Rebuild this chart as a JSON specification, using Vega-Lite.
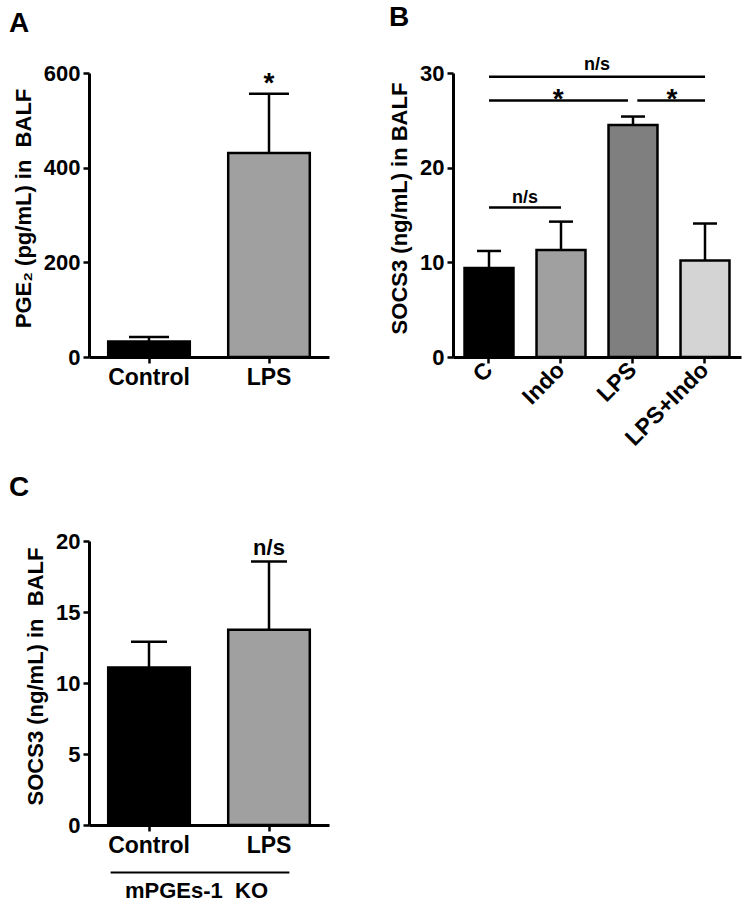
{
  "$schema": "https://vega.github.io/schema/vega-lite/v6.json",
  "background": "white",
  "padding": {"left": 9, "top": 4, "right": 5, "bottom": 5},
  "columns": 2,
  "spacing": {"row": 184, "column": 124},
  "bounds": "flush",
  "resolve": {"scale": {"fill": "independent"}},
  "datasets": {
    "a": [
      {"group": "Control", "mean": 33, "upper": 42, "sig": ""},
      {"group": "LPS", "mean": 431, "upper": 556, "sig": "*"}
    ],
    "b": [
      {"group": "C", "mean": 9.4, "upper": 11.2},
      {"group": "Indo", "mean": 11.3, "upper": 14.3},
      {"group": "LPS", "mean": 24.5, "upper": 25.4},
      {"group": "LPS+Indo", "mean": 10.2, "upper": 14.1}
    ],
    "bLines": [
      {"x1": 0, "x2": 1, "y": 15.8},
      {"x1": 0, "x2": 1.93, "y": 27.1},
      {"x1": 2.06, "x2": 3.0, "y": 27.1},
      {"x1": 0, "x2": 3.0, "y": 29.6}
    ],
    "bNs": [
      {"x": 0.5, "y": 16.3, "label": "n/s"},
      {"x": 1.5, "y": 30.3, "label": "n/s"}
    ],
    "bStar": [
      {"x": 0.96, "y": 26.3, "label": "*"},
      {"x": 2.54, "y": 26.3, "label": "*"}
    ],
    "c": [
      {"group": "Control", "mean": 11.1, "upper": 12.9, "sig": ""},
      {"group": "LPS", "mean": 13.75, "upper": 18.55, "sig": "n/s"}
    ],
    "cLine": [
      {"x1": -0.32, "x2": 1.17, "y": -3.35}
    ]
  },
  "concat": [
    {
      "width": 240,
      "height": 284,
      "title": {"text": "A", "dx": -80, "offset": 24},
      "data": {"name": "a"},
      "layer": [
        {
          "mark": {"type": "bar", "stroke": "black", "strokeWidth": 2.5},
          "encoding": {
            "x": {"field": "group", "type": "nominal", "sort": null, "title": null,
                  "scale": {"paddingInner": 0.32, "paddingOuter": 0.16}},
            "y": {"field": "mean", "type": "quantitative", "title": "PGE₂ (pg/mL) in\u00a0 BALF",
                  "scale": {"domain": [0, 600], "nice": false},
                  "axis": {"values": [0, 200, 400, 600]}},
            "fill": {"field": "group", "type": "nominal", "legend": null,
                     "scale": {"domain": ["Control", "LPS"], "range": ["#000000", "#a0a0a0"]}}
          }
        },
        {
          "mark": {"type": "rule", "strokeWidth": 2.5, "color": "black"},
          "encoding": {
            "x": {"field": "group", "type": "nominal", "sort": null},
            "y": {"field": "mean", "type": "quantitative", "title": "PGE₂ (pg/mL) in\u00a0 BALF"},
            "y2": {"field": "upper"}
          }
        },
        {
          "mark": {"type": "tick", "size": 40, "thickness": 2.5, "color": "black", "opacity": 1},
          "encoding": {
            "x": {"field": "group", "type": "nominal", "sort": null},
            "y": {"field": "upper", "type": "quantitative", "title": "PGE₂ (pg/mL) in\u00a0 BALF"}
          }
        },
        {
          "mark": {"type": "text", "fontSize": 28, "fontWeight": "bold", "baseline": "alphabetic", "dy": -2, "color": "black"},
          "encoding": {
            "x": {"field": "group", "type": "nominal", "sort": null},
            "y": {"field": "upper", "type": "quantitative", "title": "PGE₂ (pg/mL) in\u00a0 BALF"},
            "text": {"field": "sig"}
          }
        }
      ]
    },
    {
      "width": 288,
      "height": 284,
      "title": {"text": "B", "dx": -64, "offset": 24},
      "resolve": {"scale": {"x": "independent"}},
      "layer": [
        {
          "data": {"name": "b"},
          "layer": [
            {
              "mark": {"type": "bar", "stroke": "black", "strokeWidth": 2.5},
              "encoding": {
                "x": {"field": "group", "type": "nominal", "sort": null, "title": null,
                      "scale": {"paddingInner": 0.32, "paddingOuter": 0.16},
                      "axis": {"labelAngle": -45, "labelAlign": "right", "labelBaseline": "middle"}},
                "y": {"field": "mean", "type": "quantitative", "title": "SOCS3 (ng/mL) in BALF",
                      "scale": {"domain": [0, 30], "nice": false},
                      "axis": {"values": [0, 10, 20, 30]}},
                "fill": {"field": "group", "type": "nominal", "legend": null,
                         "scale": {"domain": ["C", "Indo", "LPS", "LPS+Indo"], "range": ["#000000", "#a0a0a0", "#7f7f7f", "#d4d4d4"]}}
              }
            },
            {
              "mark": {"type": "rule", "strokeWidth": 2.5, "color": "black"},
              "encoding": {
                "x": {"field": "group", "type": "nominal", "sort": null},
                "y": {"field": "mean", "type": "quantitative", "title": "SOCS3 (ng/mL) in BALF"},
                "y2": {"field": "upper"}
              }
            },
            {
              "mark": {"type": "tick", "size": 24, "thickness": 2.5, "color": "black", "opacity": 1},
              "encoding": {
                "x": {"field": "group", "type": "nominal", "sort": null},
                "y": {"field": "upper", "type": "quantitative", "title": "SOCS3 (ng/mL) in BALF"}
              }
            }
          ]
        },
        {
          "data": {"name": "bLines"},
          "mark": {"type": "rule", "strokeWidth": 2.5, "color": "black"},
          "encoding": {
            "x": {"field": "x1", "type": "quantitative", "axis": null,
                  "scale": {"domain": [-0.5, 3.5], "nice": false, "zero": false}},
            "x2": {"field": "x2"},
            "y": {"field": "y", "type": "quantitative", "title": "SOCS3 (ng/mL) in BALF"}
          }
        },
        {
          "data": {"name": "bNs"},
          "mark": {"type": "text", "fontSize": 18, "fontWeight": "bold", "baseline": "alphabetic", "color": "black"},
          "encoding": {
            "x": {"field": "x", "type": "quantitative", "axis": null,
                  "scale": {"domain": [-0.5, 3.5], "nice": false, "zero": false}},
            "y": {"field": "y", "type": "quantitative", "title": "SOCS3 (ng/mL) in BALF"},
            "text": {"field": "label"}
          }
        },
        {
          "data": {"name": "bStar"},
          "mark": {"type": "text", "fontSize": 28, "fontWeight": "bold", "baseline": "alphabetic", "color": "black"},
          "encoding": {
            "x": {"field": "x", "type": "quantitative", "axis": null,
                  "scale": {"domain": [-0.5, 3.5], "nice": false, "zero": false}},
            "y": {"field": "y", "type": "quantitative", "title": "SOCS3 (ng/mL) in BALF"},
            "text": {"field": "label"}
          }
        }
      ]
    },
    {
      "width": 240,
      "height": 284,
      "title": {"text": "C", "dx": -80, "offset": 28},
      "resolve": {"scale": {"x": "independent"}},
      "layer": [
        {
          "data": {"name": "c"},
          "layer": [
            {
              "mark": {"type": "bar", "stroke": "black", "strokeWidth": 2.5},
              "encoding": {
                "x": {"field": "group", "type": "nominal", "sort": null, "title": "mPGEs-1\u00a0 KO",
                      "scale": {"paddingInner": 0.32, "paddingOuter": 0.16},
                      "axis": {"titlePadding": 23, "titleX": 107}},
                "y": {"field": "mean", "type": "quantitative", "title": "SOCS3 (ng/mL) in\u00a0 BALF",
                      "scale": {"domain": [0, 20], "nice": false},
                      "axis": {"values": [0, 5, 10, 15, 20]}},
                "fill": {"field": "group", "type": "nominal", "legend": null,
                         "scale": {"domain": ["Control", "LPS"], "range": ["#000000", "#a0a0a0"]}}
              }
            },
            {
              "mark": {"type": "rule", "strokeWidth": 2.5, "color": "black"},
              "encoding": {
                "x": {"field": "group", "type": "nominal", "sort": null},
                "y": {"field": "mean", "type": "quantitative", "title": "SOCS3 (ng/mL) in\u00a0 BALF"},
                "y2": {"field": "upper"}
              }
            },
            {
              "mark": {"type": "tick", "size": 36, "thickness": 2.5, "color": "black", "opacity": 1},
              "encoding": {
                "x": {"field": "group", "type": "nominal", "sort": null},
                "y": {"field": "upper", "type": "quantitative", "title": "SOCS3 (ng/mL) in\u00a0 BALF"}
              }
            },
            {
              "mark": {"type": "text", "fontSize": 22, "fontWeight": "bold", "baseline": "alphabetic", "dy": -7, "color": "black"},
              "encoding": {
                "x": {"field": "group", "type": "nominal", "sort": null},
                "y": {"field": "upper", "type": "quantitative", "title": "SOCS3 (ng/mL) in\u00a0 BALF"},
                "text": {"field": "sig"}
              }
            }
          ]
        },
        {
          "data": {"name": "cLine"},
          "mark": {"type": "rule", "strokeWidth": 2, "color": "black"},
          "encoding": {
            "x": {"field": "x1", "type": "quantitative", "axis": null,
                  "scale": {"domain": [-0.5, 1.5], "nice": false, "zero": false}},
            "x2": {"field": "x2"},
            "y": {"field": "y", "type": "quantitative", "title": "SOCS3 (ng/mL) in\u00a0 BALF"}
          }
        }
      ]
    }
  ],
  "config": {
    "font": "Liberation Sans",
    "view": {"stroke": null},
    "title": {"font": "Liberation Sans", "fontSize": 28, "fontWeight": "bold", "anchor": "start", "frame": "group", "color": "black"},
    "axis": {
      "grid": false,
      "domainColor": "black", "domainWidth": 3,
      "tickColor": "black", "tickWidth": 2.5, "tickSize": 6,
      "labelFont": "Liberation Sans", "labelFontWeight": "bold", "labelFontSize": 23, "labelColor": "black", "labelPadding": 3,
      "titleFont": "Liberation Sans", "titleFontWeight": "bold", "titleFontSize": 22, "titleColor": "black", "titlePadding": 8
    },
    "axisX": {"labelAngle": 0},
    "axisY": {"labelFontSize": 22, "titleY": 135},
    "text": {"font": "Liberation Sans"}
  }
}
